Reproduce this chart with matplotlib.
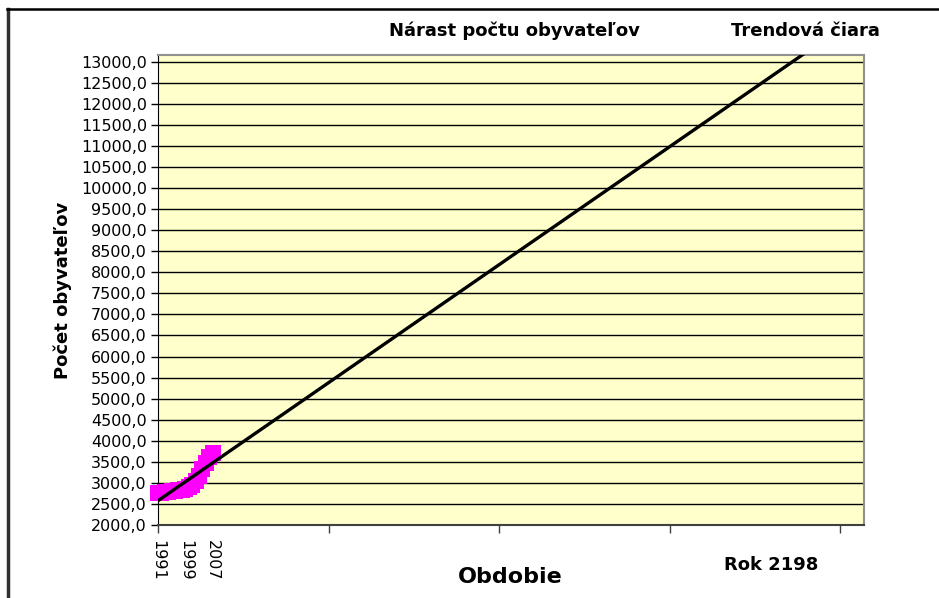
import numpy as np
import matplotlib
matplotlib.use("Agg")
import matplotlib.pyplot as plt
from matplotlib.lines import Line2D
from matplotlib.ticker import FuncFormatter

plt.rcParams['font.family'] = ['DejaVu Sans']

# ---------------------------------------------------------------------------
# Data
# ---------------------------------------------------------------------------
years = [1991, 1992, 1993, 1994, 1995, 1996, 1997, 1998, 1999,
         2000, 2001, 2002, 2003, 2004, 2005, 2006, 2007]
population = [2760, 2770, 2780, 2790, 2800, 2810, 2820, 2840, 2860,
              2900, 2960, 3050, 3170, 3320, 3480, 3620, 3700]
year_labels = ["1991", "1999", "2007"]
label_years = [1991, 1999, 2007]
forecast_end = 2198
tick_years = [1991, 2041, 2091, 2141, 2191]

# ---------------------------------------------------------------------------
# Figure
# ---------------------------------------------------------------------------
W, H = 939, 598
fig = plt.figure(figsize=(W / 100, H / 100), dpi=100)
ax = fig.add_axes([158 / W, 1 - 525 / H, (864 - 158) / W, (525 - 55) / H])
ax.set_facecolor('#FFFFCC')

# gridlines
for v in np.arange(2000, 13001, 500):
    ax.axhline(v, color='black', linewidth=1.0, zorder=1)

# data series: thick magenta band of square markers
ax.plot(years, population, '-', color='#FF00FF', linewidth=9,
        marker='s', markersize=12, markeredgewidth=0,
        solid_capstyle='butt', zorder=3, clip_on=False)

# linear trend (Excel-style forecast)
k, q = np.polyfit(years, population, 1)
tx = np.array([years[0], forecast_end])
ax.plot(tx, k * tx + q, color='black', linewidth=2.4, zorder=4)

ax.set_xlim(years[0], forecast_end)
ax.set_ylim(2000, 13160)

ax.set_yticks(np.arange(2000, 13001, 500))
ax.yaxis.set_major_formatter(FuncFormatter(lambda v, p: f"{v:.1f}".replace('.', ',')))
ax.tick_params(axis='y', direction='out', length=5, width=1, labelsize=11.5, pad=3)

ax.xaxis.remove_overlapping_locs = False
ax.set_xticks(tick_years)
ax.set_xticklabels([])
ax.tick_params(axis='x', which='major', direction='out', length=6, width=1, color='#404040')
ax.set_xticks(label_years, minor=True)
ax.set_xticklabels(year_labels, minor=True, rotation=270, fontsize=11.5)
ax.tick_params(axis='x', which='minor', length=0, pad=11)

for side in ['top', 'right']:
    ax.spines[side].set_color('#909090')
    ax.spines[side].set_linewidth(1.5)
ax.spines['left'].set_color('black')
ax.spines['bottom'].set_color('#404040')
ax.spines['bottom'].set_linewidth(1.5)

ax.set_ylabel('Počet obyvateľov', fontsize=13, fontweight='bold', labelpad=6)

# texts
fig.text(514 / W, 1 - 31 / H, 'Nárast počtu obyvateľov', ha='center', va='center',
         fontsize=13, fontweight='bold')
fig.text(805 / W, 1 - 31 / H, 'Trendová čiara', ha='center', va='center',
         fontsize=13, fontweight='bold')
fig.text(510 / W, 1 - 577 / H, 'Obdobie', ha='center', va='center',
         fontsize=16, fontweight='bold')
fig.text(771 / W, 1 - 565 / H, 'Rok 2198', ha='center', va='center',
         fontsize=13, fontweight='bold')

# outer chart border (cut by the image edge)
fig.add_artist(Line2D([8 / W, 8 / W], [0, 1 - 9 / H], color='#303030', linewidth=2.5,
                      transform=fig.transFigure))
fig.add_artist(Line2D([7 / W, 1], [1 - 9 / H, 1 - 9 / H], color='black', linewidth=1.8,
                      transform=fig.transFigure))

fig.savefig('out.png', dpi=100)
